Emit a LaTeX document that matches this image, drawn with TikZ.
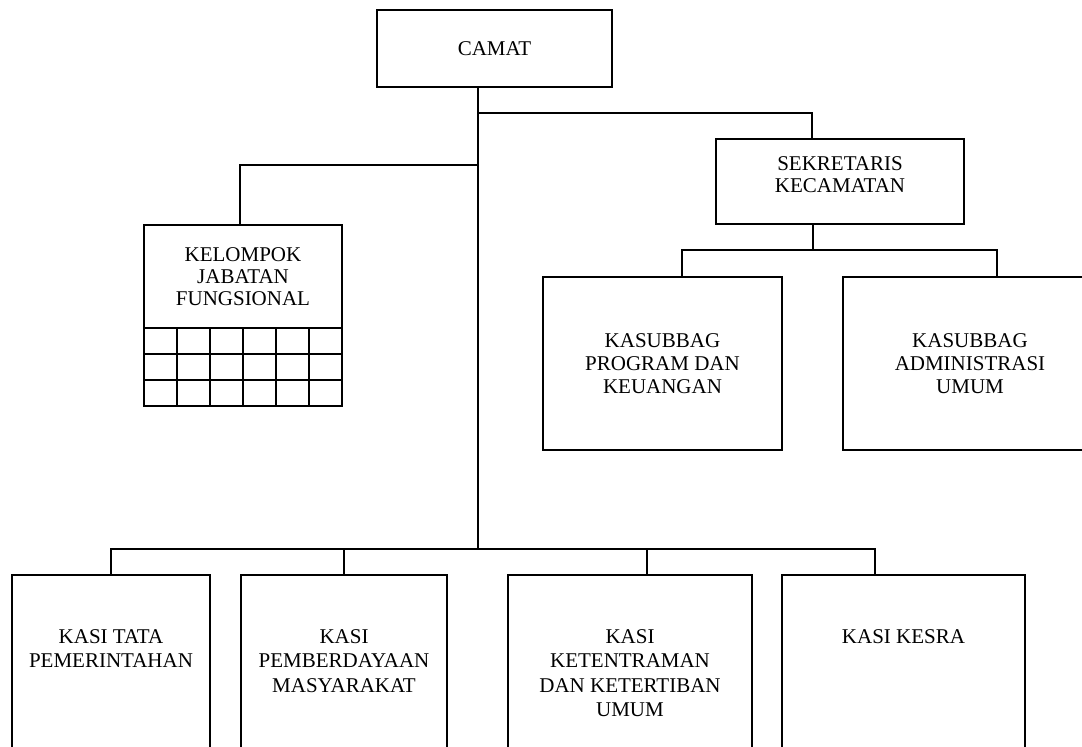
\documentclass[tikz,border=0pt]{standalone}
\usepackage{fontspec}
\setmainfont{Liberation Serif}
\tikzset{unit/.style={draw,line width=1.5pt,align=center,inner sep=0pt,font=\fontsize{21}{23}\selectfont},
 kasitext/.style={anchor=north,align=center,inner sep=0pt,font=\fontsize{21}{24.5}\selectfont},
 link/.style={line width=1.5pt}}

\begin{document}
\begin{tikzpicture}[x=1pt,y=-1pt]
 \useasboundingbox (0,0) rectangle (1082,747);
 \clip (0,0) rectangle (1082,747);
 % pimpinan dan sekretariat
 \node[unit,minimum width=235pt,minimum height=77pt] (camat) at (494.5,48.5) {CAMAT};
 \node[unit,minimum width=248pt,minimum height=85pt] (sekcam) at (840,181.5) {SEKRETARIS\\[-1pt]KECAMATAN\\[-9pt]};
 \node[unit,minimum width=198pt,minimum height=103pt] (kjf) at (243,276.5) {KELOMPOK\\[-1pt]JABATAN\\[-1pt]FUNGSIONAL};
 \node[unit,minimum width=239pt,minimum height=173pt] (progkeu) at (662.5,363.5) {KASUBBAG\\PROGRAM DAN\\KEUANGAN};
 \node[unit,minimum width=254pt,minimum height=173pt] (adum) at (970,363.5) {KASUBBAG\\ADMINISTRASI\\UMUM};
 \foreach \i in {0,...,17}{
  \pgfmathsetmacro{\cx}{144+mod(\i,6)*33}
  \pgfmathsetmacro{\cy}{328+floor(\i/6)*26}
  \draw[link] (\cx,\cy) rectangle ++(33,26);
 }
 % seksi
 \node[unit,minimum width=198pt,minimum height=225pt] (tapem) at (111,687.5) {};
 \node[kasitext] (tapemtxt) at ([yshift=-55pt]tapem.north) {KASI TATA\\PEMERINTAHAN};
 \node[unit,minimum width=206pt,minimum height=225pt] (pmd) at (344,687.5) {};
 \node[kasitext] (pmdtxt) at ([yshift=-55pt]pmd.north) {KASI\\PEMBERDAYAAN\\MASYARAKAT};
 \node[unit,minimum width=244pt,minimum height=225pt] (trantib) at (630,687.5) {};
 \node[kasitext] (trantibtxt) at ([yshift=-55pt]trantib.north) {KASI\\KETENTRAMAN\\DAN KETERTIBAN\\UMUM};
 \node[unit,minimum width=243pt,minimum height=225pt] (kesra) at (903.5,687.5) {};
 \node[kasitext] (kesratxt) at ([yshift=-55pt]kesra.north) {KASI KESRA};
 % garis
 \coordinate (bus) at (478,549);
 \coordinate (jsek) at (478,113);
 \coordinate (jkjf) at (478,165);
 \coordinate (jsub) at (813,250);
 \draw[link] (camat.south -| bus) -- (bus);
 \draw[link] (jsek) -| ([xshift=-28pt]sekcam.north);
 \draw[link] (jkjf) -| ([xshift=-3pt]kjf.north);
 \draw[link] ([xshift=-27pt]sekcam.south) -- (jsub);
 \draw[link] ([xshift=19.5pt]progkeu.north) |- (jsub) -| ([xshift=27pt]adum.north);
 \draw[link] (tapem.north) |- (bus) -| ([xshift=-28.5pt]kesra.north);
 \draw[link] (pmd.north) -- (pmd.north |- bus);
 \draw[link] ([xshift=17pt]trantib.north) -- ([xshift=17pt]trantib.north |- bus);
\end{tikzpicture}
\end{document}
